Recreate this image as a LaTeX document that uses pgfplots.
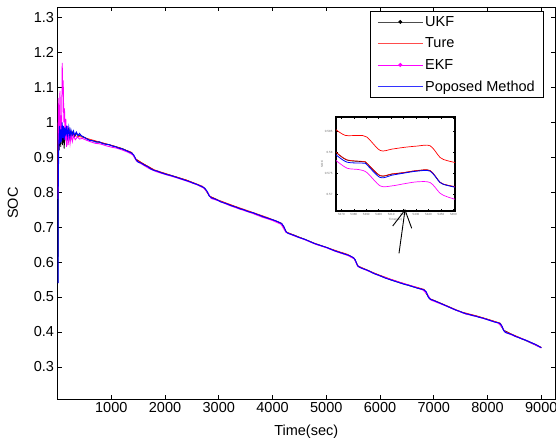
\documentclass[border=0pt]{standalone}
\usepackage{fontspec}
\setmainfont{Liberation Sans}
\usepackage{pgfplots}
\usepackage{pgfplotstable}
\pgfplotsset{compat=1.18}
\definecolor{mred}{RGB}{255,0,0}
\definecolor{mmag}{RGB}{255,0,255}
\definecolor{mblue}{RGB}{0,0,255}

\pgfplotstableread{
t s
10 0.54
14 0.82
20 0.90
28 0.95
38 0.99
50 0.94
62 0.98
74 0.945
86 1.0
98 0.955
110 0.99
124 0.95
140 0.985
156 0.96
172 0.99
190 0.96
210 0.985
230 0.958
250 0.978
272 0.962
296 0.975
320 0.963
350 0.972
380 0.962
410 0.968
440 0.962
480 0.958
540 0.953
600 0.948
660 0.947
720 0.943
780 0.944
840 0.939
900 0.937
960 0.936
1020 0.932
1080 0.930
1140 0.926
1200 0.924
1260 0.920
1320 0.916
1380 0.912
1420 0.906
1460 0.893
1500 0.886
1560 0.883
1620 0.877
1680 0.873
1740 0.866
1800 0.862
1860 0.860
1920 0.856
1980 0.853
2040 0.850
2100 0.848
2160 0.845
2220 0.842
2280 0.839
2340 0.836
2400 0.833
2460 0.830
2520 0.826
2580 0.823
2640 0.819
2700 0.815
2740 0.811
2780 0.803
2820 0.790
2860 0.784
2920 0.781
2980 0.777
3040 0.772
3100 0.769
3160 0.766
3220 0.762
3280 0.759
3340 0.756
3400 0.752
3460 0.750
3520 0.746
3580 0.743
3640 0.741
3700 0.737
3760 0.734
3820 0.730
3880 0.727
3940 0.724
4000 0.721
4060 0.718
4120 0.714
4170 0.710
4210 0.702
4250 0.687
4290 0.682
4350 0.679
4420 0.675
4480 0.671
4540 0.668
4600 0.665
4660 0.661
4720 0.657
4780 0.653
4840 0.650
4900 0.647
4960 0.644
5020 0.641
5080 0.637
5140 0.633
5200 0.630
5260 0.627
5320 0.624
5380 0.621
5440 0.618
5500 0.613
5540 0.606
5580 0.590
5620 0.585
5680 0.581
5740 0.578
5800 0.574
5860 0.569
5920 0.565
5980 0.562
6040 0.558
6100 0.554
6160 0.551
6220 0.548
6280 0.545
6340 0.542
6400 0.539
6460 0.536
6520 0.534
6580 0.531
6640 0.528
6700 0.525
6760 0.523
6820 0.520
6860 0.515
6900 0.499
6940 0.493
7000 0.490
7060 0.486
7120 0.482
7180 0.478
7240 0.474
7300 0.470
7360 0.466
7420 0.462
7480 0.459
7540 0.455
7600 0.452
7660 0.450
7720 0.447
7780 0.445
7840 0.442
7900 0.440
7960 0.437
8020 0.434
8080 0.431
8140 0.428
8200 0.426
8240 0.423
8270 0.416
8300 0.404
8340 0.398
8400 0.395
8460 0.392
8520 0.387
8580 0.384
8640 0.380
8700 0.377
8760 0.373
8820 0.369
8880 0.365
8940 0.360
9000 0.355
}\tabBlue

\pgfplotstableread{
t s
10 0.78
14 1.07
20 0.96
28 1.05
36 0.94
46 1.09
56 0.97
66 1.02
76 0.96
88 1.17
96 1.08
106 1.12
118 1.00
130 1.04
142 0.95
154 1.01
168 0.93
182 0.99
198 0.935
216 0.975
234 0.94
254 0.965
276 0.945
300 0.962
330 0.950
370 0.958
410 0.952
460 0.954
520 0.950
600 0.945
700 0.940
800 0.938
900 0.933
1000 0.929
1100 0.926
1200 0.921
1300 0.915
1400 0.907
1470 0.889
1560 0.881
1700 0.868
1850 0.858
2000 0.851
2200 0.842
2400 0.832
2600 0.821
2720 0.812
2800 0.798
2860 0.782
3000 0.775
3200 0.762
3400 0.751
3600 0.741
3800 0.729
4000 0.719
4160 0.708
4250 0.685
4400 0.675
4600 0.664
4800 0.651
5000 0.641
5200 0.629
5400 0.619
5520 0.609
5590 0.587
5800 0.573
6000 0.560
6200 0.550
6400 0.540
6600 0.531
6800 0.520
6880 0.508
6950 0.491
7200 0.476
7400 0.463
7600 0.451
7800 0.444
8000 0.435
8200 0.425
8280 0.412
8320 0.400
8500 0.388
8700 0.377
8900 0.362
9000 0.354
}\tabMag

\pgfplotstableread{
t s
10 0.54
14 0.80
22 0.95
32 0.92
46 0.99
60 0.93
76 0.985
92 0.935
108 0.975
124 0.925
144 0.98
164 0.945
184 0.985
206 0.95
230 0.978
254 0.955
284 0.972
316 0.958
350 0.968
400 0.962
460 0.960
600 0.949
800 0.942
1000 0.934
1200 0.925
1380 0.913
1460 0.894
1560 0.884
1800 0.863
2000 0.853
2200 0.844
2400 0.834
2600 0.822
2740 0.811
2830 0.788
3000 0.776
3200 0.764
3400 0.753
3600 0.742
3800 0.731
4000 0.721
4170 0.710
4260 0.685
4400 0.677
4600 0.665
4800 0.652
5000 0.642
5200 0.630
5400 0.620
5520 0.610
5590 0.588
5800 0.574
6000 0.561
6200 0.549
6400 0.539
6600 0.530
6820 0.520
6920 0.495
7200 0.477
7400 0.463
7600 0.452
7800 0.445
8000 0.436
8220 0.425
8300 0.405
8500 0.389
8700 0.376
8900 0.362
9000 0.355
}\tabBlack

\pgfplotstableread{
t s
10 0.975
100 0.970
200 0.966
300 0.962
500 0.956
800 0.943
1100 0.930
1380 0.914
1460 0.895
1560 0.885
1800 0.864
2100 0.849
2400 0.835
2700 0.817
2830 0.789
3000 0.777
3300 0.760
3600 0.744
3900 0.728
4170 0.711
4260 0.686
4500 0.671
4800 0.653
5100 0.637
5400 0.622
5520 0.611
5590 0.589
5900 0.568
6200 0.551
6500 0.536
6820 0.522
6920 0.496
7200 0.478
7500 0.458
7800 0.446
8100 0.432
8240 0.425
8310 0.403
8600 0.384
8900 0.364
9000 0.356
}\tabRed

\begin{document}
\begin{tikzpicture}[x=1pt,y=1pt]
\useasboundingbox (-57.5,-46) rectangle (498.5,399);
\begin{axis}[
  name=main, at={(0pt,0pt)}, anchor=south west,
  scale only axis, width=497.5pt, height=392pt,
  xmin=0, xmax=9255, ymin=0.208, ymax=1.33,
  xtick={1000,2000,3000,4000,5000,6000,7000,8000,9000},
  ytick={0.3,0.4,0.5,0.6,0.7,0.8,0.9,1,1.1,1.2,1.3},
  yticklabels={0.3,0.4,0.5,0.6,0.7,0.8,0.9,1,1.1,1.2,1.3},
  xticklabels={1000,2000,3000,4000,5000,6000,7000,8000,9000},
  major tick length=4pt,
  tick style={black, line width=0.6pt},
  axis line style={line width=0.9pt},
  ticklabel style={font=\fontsize{14.5}{16}\selectfont},
  /pgf/number format/assume math mode=true,
  xlabel={Time(sec)}, ylabel={SOC},
  label style={font=\fontsize{14.5}{16}\selectfont},
  xlabel style={yshift=-5pt},
  ylabel style={yshift=9pt},
  legend cell align=left,
  legend style={at={(rel axis cs:0.978,0.99)}, anchor=north east,
    draw=black, line width=0.6pt, font=\fontsize{14.5}{16}\selectfont,
    inner xsep=7pt, inner ysep=3pt, row sep=6pt},
]
\addplot[black, line width=0.8pt,
  legend image code/.code={\draw[black!70, line width=0.4pt] (0pt,0pt)--(45pt,0pt); \fill[black] (22.5pt,0pt) circle (1.5pt);}]
  table[x=t,y=s]{\tabBlack};
\addlegendentry{UKF}
\addplot[mred, line width=0.6pt,
  legend image code/.code={\draw[mred!70, line width=0.4pt] (0pt,0pt)--(45pt,0pt);}]
  table[x=t,y=s]{\tabRed};
\addlegendentry{Ture}
\addplot[mmag, line width=0.9pt,
  legend image code/.code={\draw[mmag, line width=0.4pt] (0pt,0pt)--(45pt,0pt); \fill[mmag] (22.5pt,0pt) circle (1.5pt);}]
  table[x=t,y=s]{\tabMag};
\addlegendentry{EKF}
\addplot[mblue, line width=1pt,
  legend image code/.code={\draw[mblue!80, line width=0.7pt] (0pt,0pt)--(45pt,0pt);}]
  table[x=t,y=s]{\tabBlue};
\addlegendentry{Poposed Method}
\end{axis}

\begin{axis}[
  at={(278.5pt,188pt)}, anchor=south west,
  scale only axis, width=119pt, height=94pt,
  xmin=5365.7, xmax=5461.3, ymin=0.56601, ymax=0.58843,
  xtick={5370,5380,5390,5400,5410,5420,5430,5440,5450,5460},
  xticklabels={5370,5380,5390,5400,5410,5420,5430,5440,5450,5460},
  ytick={0.57,0.575,0.58,0.585},
  yticklabels={0.57,0.575,0.58,0.585},
  major tick length=2pt,
  tick style={black, line width=0.5pt},
  axis line style={line width=1.1pt},
  ticklabel style={font=\fontsize{3}{3.5}\selectfont, text=black!60},
  xticklabel style={yshift=1pt},
  /pgf/number format/assume math mode=true,
  xlabel={Time(sec)}, ylabel={SOC},
  label style={font=\fontsize{3}{3.5}\selectfont, text=black!60},
  xlabel style={yshift=4pt},
  ylabel style={yshift=-5pt},
]
\addplot[mred, line width=0.7pt, smooth] coordinates {
(5365.7,0.58540) (5373.2,0.58404) (5383.9,0.58404) (5390.5,0.58364)
(5401.2,0.58045) (5410.6,0.58077) (5419.9,0.58117) (5430.6,0.58149)
(5441.3,0.58157) (5449.3,0.57878) (5454.6,0.57806) (5461.3,0.57758)};
\addplot[black, line width=0.7pt, smooth] coordinates {
(5365.7,0.58000) (5374.5,0.57816) (5387.9,0.57776) (5390.5,0.57736)
(5401.2,0.57441) (5410.6,0.57481) (5419.9,0.57513) (5430.6,0.57561)
(5441.3,0.57561) (5449.3,0.57282) (5454.6,0.57218) (5461.3,0.57178)};
\addplot[mred, line width=0.6pt, smooth] coordinates {
(5365.7,0.58006) (5374.5,0.57822) (5387.9,0.57782) (5390.5,0.57742)
(5401.2,0.57447) (5410.6,0.57487) (5419.9,0.57519) (5430.6,0.57567)
(5441.3,0.57567) (5449.3,0.57288) (5454.6,0.57224) (5461.3,0.57184)};
\addplot[mmag, line width=0.7pt, smooth] coordinates {
(5365.7,0.57806) (5374.5,0.57623) (5383.9,0.57590) (5390.5,0.57519)
(5401.2,0.57200) (5410.6,0.57200) (5419.9,0.57248) (5430.6,0.57296)
(5441.3,0.57280) (5449.3,0.57025) (5454.6,0.56945) (5461.3,0.56881)};
\addplot[mblue, line width=0.8pt, smooth] coordinates {
(5365.7,0.57942) (5374.5,0.57766) (5387.9,0.57742) (5390.5,0.57703)
(5401.2,0.57400) (5410.6,0.57455) (5419.9,0.57503) (5430.6,0.57551)
(5441.3,0.57551) (5449.3,0.57280) (5454.6,0.57216) (5461.3,0.57168)};
\end{axis}

\draw[black, line width=0.9pt] (341.5,145.7) -- (347.5,189);
\draw[black, line width=0.9pt] (335.2,173) -- (347.5,189) -- (354.2,170.7);
\end{tikzpicture}
\end{document}
